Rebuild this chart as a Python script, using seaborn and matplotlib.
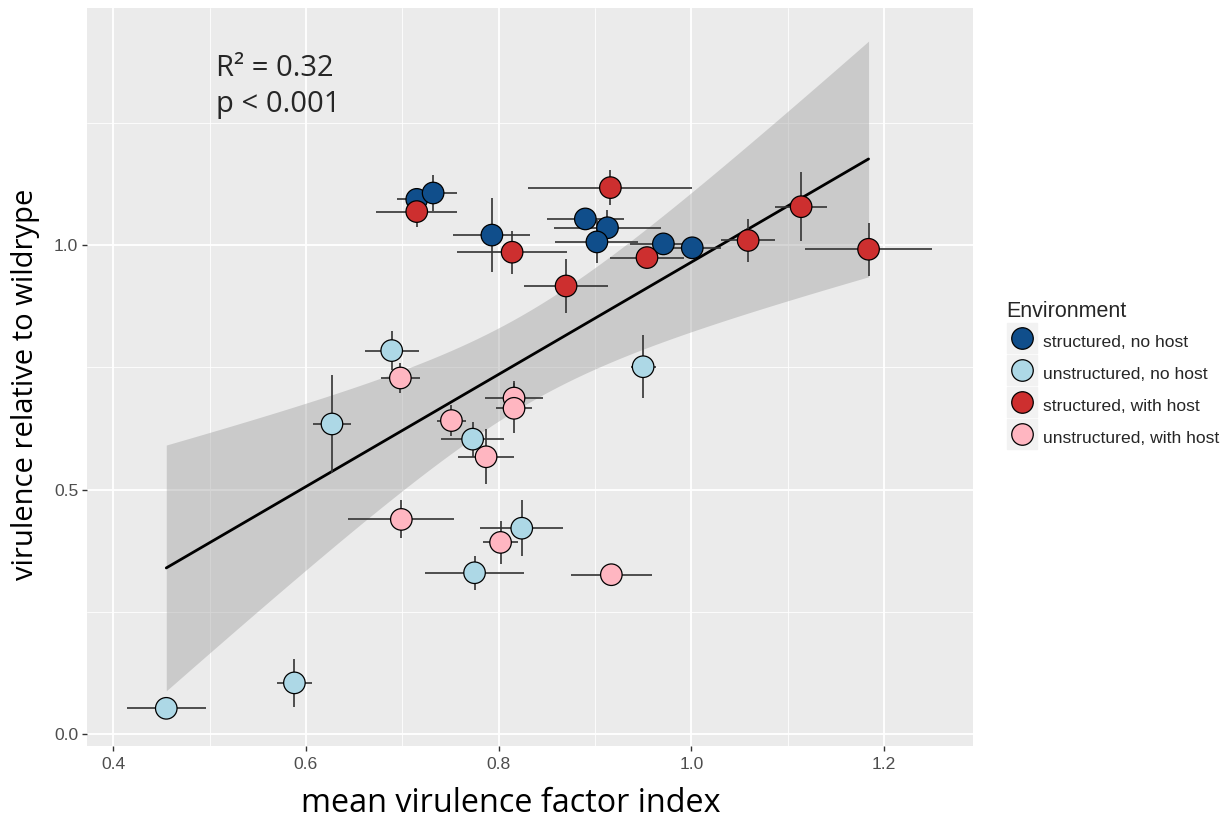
import matplotlib
matplotlib.use("Agg")
import matplotlib.pyplot as plt
from matplotlib.lines import Line2D
from matplotlib.legend_handler import HandlerTuple
import numpy as np
import pandas as pd
import seaborn as sns

# legend order and fill colours
environments = ["structured, no host", "unstructured, no host",
                "structured, with host", "unstructured, with host"]
env_colors = ["#104E8B", "#ADD8E6", "#CD2F2F", "#FFB6C1"]

# one row per strain (8 per environment)
environment = (["structured, no host"] * 8 + ["structured, with host"] * 8
               + ["unstructured, no host"] * 8 + ["unstructured, with host"] * 8)
vf_index = [0.715, 0.732, 0.793, 0.890, 0.913, 0.902, 0.971, 1.001,
            0.715, 0.814, 0.916, 0.954, 0.870, 1.059, 1.114, 1.184,
            0.689, 0.627, 0.773, 0.824, 0.775, 0.950, 0.455, 0.588,
            0.698, 0.816, 0.816, 0.751, 0.787, 0.699, 0.802, 0.917]
virulence = [1.093, 1.106, 1.020, 1.053, 1.035, 1.006, 1.002, 0.994,
             1.068, 0.985, 1.117, 0.974, 0.916, 1.009, 1.078, 0.991,
             0.784, 0.634, 0.603, 0.421, 0.330, 0.751, 0.053, 0.105,
             0.728, 0.687, 0.666, 0.641, 0.567, 0.439, 0.392, 0.326]
vf_err = [0.020, 0.025, 0.040, 0.040, 0.056, 0.043, 0.035, 0.030,
          0.042, 0.057, 0.085, 0.038, 0.044, 0.028, 0.027, 0.066,
          0.028, 0.020, 0.033, 0.043, 0.051, 0.013, 0.041, 0.018,
          0.020, 0.030, 0.019, 0.015, 0.029, 0.055, 0.018, 0.042]
vir_err = [0.020, 0.037, 0.076, 0.015, 0.036, 0.044, 0.015, 0.015,
           0.031, 0.044, 0.036, 0.015, 0.055, 0.043, 0.070, 0.054,
           0.039, 0.100, 0.036, 0.057, 0.035, 0.064, 0.005, 0.049,
           0.030, 0.034, 0.051, 0.031, 0.056, 0.039, 0.044, 0.010]

df = pd.DataFrame({"environment": environment, "vf_index": vf_index,
                   "virulence": virulence, "vf_err": vf_err, "vir_err": vir_err})

sns.set_theme(style="darkgrid", rc={"axes.facecolor": "#EBEBEB", "grid.color": "white"})
plt.rcParams["font.family"] = ["Liberation Sans", "DejaVu Sans"]

fig = plt.figure(figsize=(12.28, 8.19), dpi=100)
W, H = 1228, 819
ax = fig.add_axes([86.7 / W, 1 - 746 / H, (972.7 - 86.7) / W, (746 - 8) / H])

# linear fit with the usual (t based) 95% confidence band, like geom_smooth(method="lm")
x = df["vf_index"].to_numpy()
y = df["virulence"].to_numpy()
n = len(x)
slope, icpt = np.polyfit(x, y, 1)
resid = y - (icpt + slope * x)
s_res = np.sqrt(np.sum(resid ** 2) / (n - 2))
xs = np.linspace(x.min(), x.max(), 80)
fit = icpt + slope * xs
se = s_res * np.sqrt(1 / n + (xs - x.mean()) ** 2 / np.sum((x - x.mean()) ** 2))
t_crit = 2.042  # t(0.975, df=30)
ax.fill_between(xs, fit - t_crit * se, fit + t_crit * se, color="#999999",
                alpha=0.4, lw=0, zorder=1)

sns.regplot(data=df, x="vf_index", y="virulence", scatter=False, ci=None,
            color="black", line_kws={"lw": 2.0, "zorder": 2}, ax=ax)

ax.errorbar(df["vf_index"], df["virulence"], xerr=df["vf_err"], yerr=df["vir_err"],
            fmt="none", ecolor="#333333", elinewidth=1.2, capsize=0, zorder=3)

sns.scatterplot(data=df, x="vf_index", y="virulence", hue="environment",
                hue_order=environments, palette=env_colors, s=240,
                edgecolor="black", linewidth=0.9, zorder=4, legend=False, ax=ax)

ax.set_xlim(0.3724, 1.2921)
ax.set_ylim(-0.024, 1.484)
ax.set_xticks([0.4, 0.6, 0.8, 1.0, 1.2])
ax.set_xticklabels(["0.4", "0.6", "0.8", "1.0", "1.2"])
ax.set_xticks([0.5, 0.7, 0.9, 1.1], minor=True)
ax.set_yticks([0.0, 0.5, 1.0])
ax.set_yticklabels(["0.0", "0.5", "1.0"])
ax.set_yticks([0.25, 0.75, 1.25], minor=True)
ax.grid(which="major", color="white", lw=1.3)
ax.grid(which="minor", color="white", lw=0.6)
ax.tick_params(which="major", length=3.5, width=1, color="#333333", bottom=True, left=True,
               labelsize=12.6, labelcolor="#4D4D4D", pad=2.5)
ax.tick_params(axis="x", which="major", pad=4.5)
ax.tick_params(which="minor", length=0)
for s in ax.spines.values():
    s.set_visible(False)

ax.set_xlabel("mean virulence factor index", fontsize=23.3, family="Open Sans", color="black", labelpad=11)
ax.set_ylabel("virulence relative to wildrype", fontsize=21, family="Open Sans", color="black", labelpad=10)
ax.xaxis.label.set_x((511 - 86.7) / 886)
ax.yaxis.label.set_y((746 - 384) / 738)

ax.text(0.5066, 1.345, "R\u00b2 = 0.32", fontsize=21, family="Open Sans", ha="left", va="baseline")
ax.text(0.5066, 1.272, "p < 0.001", fontsize=21, family="Open Sans", ha="left", va="baseline")

handles = []
for col in env_colors:
    box = Line2D([], [], marker="s", ms=22, color="#F2F2F2", ls="")
    dot = Line2D([], [], marker="o", ms=15.5, mfc=col, mec="black", mew=0.9, ls="")
    handles.append((box, dot))
leg = fig.legend(handles, environments, title="Environment", loc="upper left",
                 bbox_to_anchor=(1006 / W, 1 - 301 / H), frameon=False,
                 handler_map={tuple: HandlerTuple(ndivide=1, pad=0)},
                 fontsize=12.6, title_fontsize=15.5, handlelength=1.8, handleheight=1.8,
                 labelspacing=0.41, handletextpad=0.3, borderpad=0, borderaxespad=0,
                 alignment="left")

fig.savefig("out.png", dpi=100)
